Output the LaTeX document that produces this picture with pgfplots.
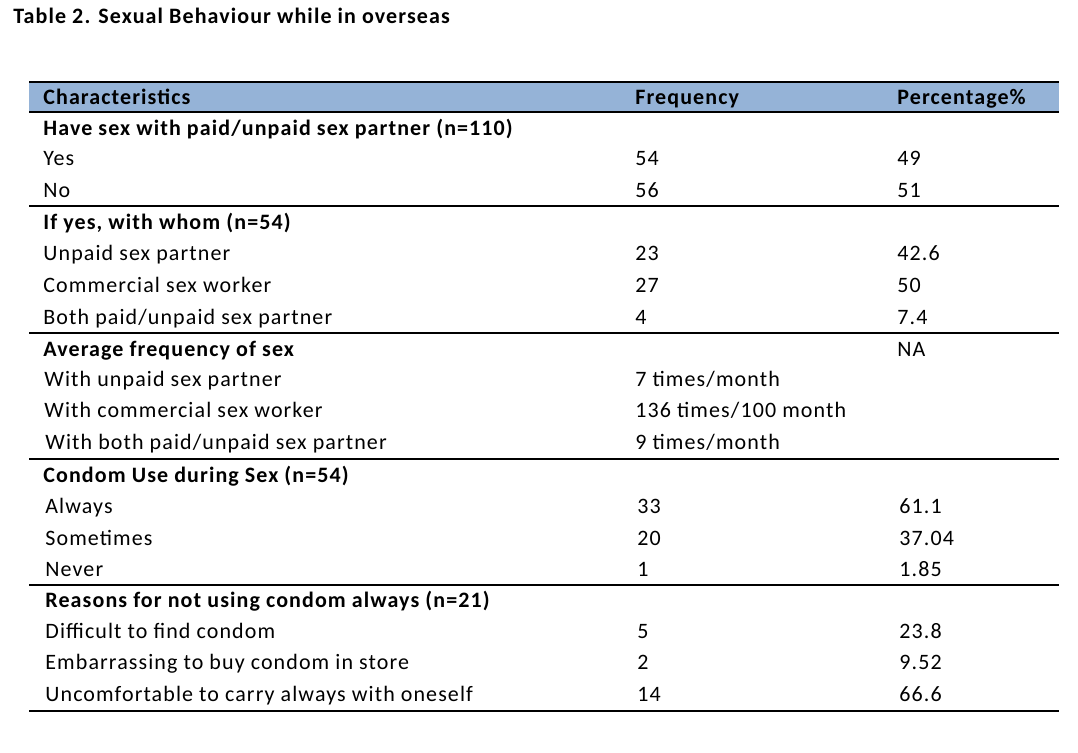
\documentclass[border=0pt]{standalone}
\usepackage{pgfplots}
\usepackage{pgfplotstable}
\usepackage{fontspec}
\setmainfont[LetterSpace=5]{Carlito}
\pgfplotsset{compat=1.18}
\definecolor{hdr}{HTML}{95B3D7}

\pgfplotstableread[col sep=semicolon]{
x;y;label
13;23;Table 2. Sexual Behaviour while in overseas
43;104;Characteristics
635;104;Frequency
897;104;Percentage\%
43;135;Have sex with paid/unpaid sex partner (n=110)
43;229;If yes, with whom (n=54)
43;356;Average frequency of sex
43;482;Condom Use during Sex (n=54)
45;607;Reasons for not using condom always (n=21)
}\boldrows

\pgfplotstableread[col sep=semicolon]{
x;y;label
43;165;Yes
43;197;No
43;260;Unpaid sex partner
43;292;Commercial sex worker
43;324;Both paid/unpaid sex partner
44;386;With unpaid sex partner
44;417;With commercial sex worker
45;449;With both paid/unpaid sex partner
45;513;Always
45;545;Sometimes
45;576;Never
45;638;Difficult to find condom
45;669;Embarrassing to buy condom in store
45;701;Uncomfortable to carry always with oneself
}\labelrows

\pgfplotstableread[col sep=semicolon]{
x;y;label
635;165;54
635;197;56
635;260;23
635;292;27
635;324;4
635;386;7 times/month
635;417;136 times/100 month
635;449;9 times/month
637;513;33
637;545;20
637;576;1
637;638;5
637;669;2
637;701;14
}\freqrows

\pgfplotstableread[col sep=semicolon]{
x;y;label
897;165;49
897;197;51
897;260;42.6
897;292;50
897;324;7.4
897;356;NA
899;513;61.1
899;545;37.04
899;576;1.85
899;638;23.8
899;669;9.52
899;701;66.6
}\pctrows

\begin{document}
\begin{tikzpicture}
\begin{axis}[
  scale only axis, width=539pt, height=376pt,
  xmin=0, xmax=1078, ymin=0, ymax=752, y dir=reverse,
  hide axis, clip=false,
]
\path (axis cs:0,0) rectangle (axis cs:1078,752);
\fill[hdr] (axis cs:29,82) rectangle (axis cs:1059,112);
\draw[line width=0.75pt] (axis cs:29,82) -- (axis cs:1059,82);
\pgfplotsinvokeforeach{112,206,333,459,585,711}{
  \draw[line width=0.6pt] (axis cs:29,#1) -- (axis cs:1059,#1);
}
\addplot[draw=none, mark=none, nodes near coords, point meta=explicit symbolic,
  every node near coord/.append style={anchor=base west, inner sep=0pt,
    font=\fontsize{11}{13.2}\selectfont\bfseries}]
  table[x=x, y=y, meta=label]{\boldrows};
\addplot[draw=none, mark=none, nodes near coords, point meta=explicit symbolic,
  every node near coord/.append style={anchor=base west, inner sep=0pt,
    font=\fontsize{11}{13.2}\selectfont}]
  table[x=x, y=y, meta=label]{\labelrows};
\addplot[draw=none, mark=none, nodes near coords, point meta=explicit symbolic,
  every node near coord/.append style={anchor=base west, inner sep=0pt,
    font=\fontsize{11}{13.2}\selectfont}]
  table[x=x, y=y, meta=label]{\freqrows};
\addplot[draw=none, mark=none, nodes near coords, point meta=explicit symbolic,
  every node near coord/.append style={anchor=base west, inner sep=0pt,
    font=\fontsize{11}{13.2}\selectfont}]
  table[x=x, y=y, meta=label]{\pctrows};
\end{axis}
\end{tikzpicture}
\end{document}
